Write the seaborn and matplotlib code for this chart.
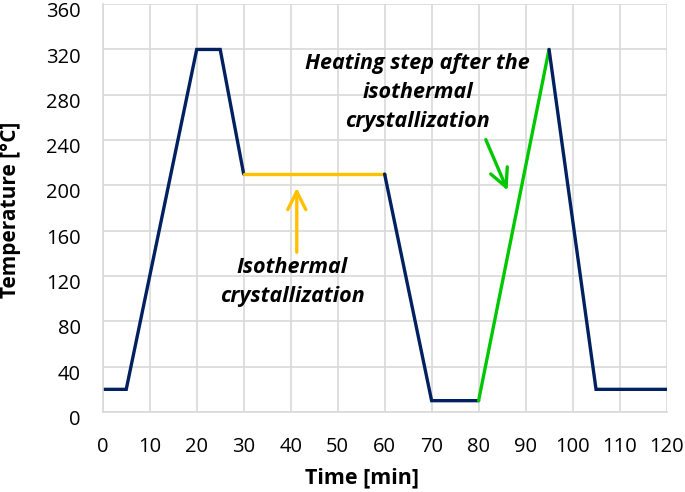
import matplotlib
matplotlib.use('Agg')
import matplotlib.pyplot as plt
import matplotlib.transforms as mtransforms
import seaborn as sns
import pandas as pd

# temperature program segments (time in min, temperature in degC)
time_heat1 = [0, 5, 20, 25, 30]
temp_heat1 = [20, 20, 320, 320, 210]
time_iso = [30, 60]
temp_iso = [210, 210]
time_cool = [60, 70, 80]
temp_cool = [210, 10, 10]
time_heat2 = [80, 95]
temp_heat2 = [10, 320]
time_end = [95, 105, 120]
temp_end = [320, 20, 20]

x_ticks = list(range(0, 121, 10))
y_ticks = list(range(0, 361, 40))

NAVY = '#002060'
YELLOW = '#FFC000'
GREEN = '#00C800'

sns.set_style('white')
plt.rcParams['font.family'] = ['Open Sans', 'DejaVu Sans']
plt.rcParams['text.color'] = 'black'
plt.rcParams['xtick.color'] = 'black'
plt.rcParams['ytick.color'] = 'black'
plt.rcParams['axes.labelcolor'] = 'black'

fig = plt.figure(figsize=(6.85, 4.92), dpi=100)
ax = fig.add_axes([0.150, 0.1626, 0.823, 0.829])

segments = [
    (time_heat1, temp_heat1, NAVY),
    (time_iso, temp_iso, YELLOW),
    (time_cool, temp_cool, NAVY),
    (time_heat2, temp_heat2, GREEN),
    (time_end, temp_end, NAVY),
]
for t, T, c in segments:
    df = pd.DataFrame({'Time': t, 'Temp': T})
    sns.lineplot(data=df, x='Time', y='Temp', color=c, lw=2.4, sort=False, ax=ax,
                 solid_joinstyle='miter')

ax.set_xlim(0, 120)
ax.set_ylim(0, 360)
ax.set_xticks(x_ticks)
ax.set_yticks(y_ticks)
ax.tick_params(axis='both', labelsize=14.5, length=0)
ax.tick_params(axis='x', pad=18)
ax.tick_params(axis='y', pad=16)
# Excel puts the value labels a little below their gridlines
shift = mtransforms.ScaledTranslation(0, -4 / 72, fig.dpi_scale_trans)
for lbl in ax.get_yticklabels():
    lbl.set_transform(lbl.get_transform() + shift)

ax.grid(True, color='#d9d9d9', lw=1.2)
ax.set_axisbelow(True)
for s in ['top', 'right']:
    ax.spines[s].set_visible(False)
for s in ['left', 'bottom']:
    ax.spines[s].set_color('#d9d9d9')
    ax.spines[s].set_linewidth(1.2)

ax.set_xlabel('Time [min]', fontsize=15.5, fontweight='bold')
ax.set_ylabel('Temperature [°C]', fontsize=15, fontweight='bold')
ax.xaxis.set_label_coords(0.459, -0.135)
ax.yaxis.set_label_coords(-0.145, 0.495)

arrow = '->,head_width=0.65,head_length=1.3'
ax.text(40.3, 114.7, 'Isothermal\ncrystallization', ha='center', va='center',
        fontsize=15.5, fontweight='bold', fontstyle='italic', linespacing=1.5)
ax.annotate('', xy=(41.3, 200.3), xytext=(41.3, 138.6),
            arrowprops=dict(arrowstyle=arrow, color=YELLOW, lw=2.4))

ax.text(67.0, 282.4, 'Heating step after the\nisothermal\ncrystallization', ha='center',
        va='center', fontsize=15.5, fontweight='bold', fontstyle='italic', linespacing=1.5)
ax.annotate('', xy=(86.4, 193.3), xytext=(81.3, 242.7),
            arrowprops=dict(arrowstyle=arrow, color=GREEN, lw=2.4))

fig.savefig('out.png', dpi=100)
plt.close(fig)
